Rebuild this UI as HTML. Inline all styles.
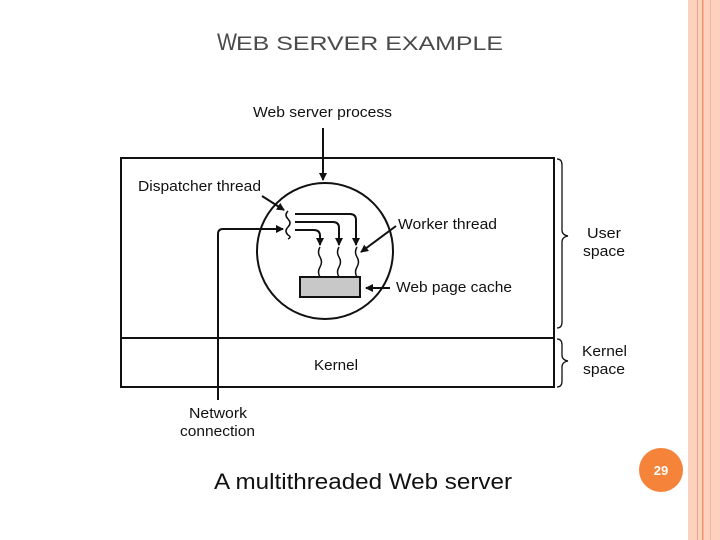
<!DOCTYPE html>
<html><head><style>
body{margin:0;width:720px;height:540px;background:#fff;position:relative;overflow:hidden;font-family:"Liberation Sans",sans-serif}
</style></head><body>
<svg width="720" height="540" viewBox="0 0 720 540" xmlns="http://www.w3.org/2000/svg" style="position:absolute;left:0;top:0">
<defs><marker id="a" markerWidth="8" markerHeight="8" refX="7" refY="4" orient="auto" markerUnits="userSpaceOnUse"><path d="M0,0 L8,4 L0,8 Z" fill="#111"/></marker></defs>
<rect x="688" y="0" width="32" height="540" fill="#fcd2bf"/>
<rect x="697" y="0" width="1" height="540" fill="#eea285"/>
<rect x="702" y="0" width="1.5" height="540" fill="#e8946f"/>
<rect x="710" y="0" width="1" height="540" fill="#f2b39a"/>
<text x="217" y="50" font-size="24" fill="#4a4a4a" textLength="20" lengthAdjust="spacingAndGlyphs">W</text>
<text x="236" y="50" font-size="19" fill="#4a4a4a" textLength="267" lengthAdjust="spacingAndGlyphs">EB SERVER EXAMPLE</text>
<g fill="none" stroke="#111" stroke-width="2">
<rect x="121" y="158" width="433" height="229"/>
<line x1="121" y1="338" x2="554" y2="338"/>
<circle cx="325" cy="251" r="68"/>
<line x1="323" y1="128" x2="323" y2="180" marker-end="url(#a)"/>
<path d="M218,400 V234 Q218,229 223,229 H283" marker-end="url(#a)"/>
<path d="M288,211 q-4,4 0,8 q4,4 0,8 q-4,4 0,8 q4,2 0,4" stroke-width="1.5"/>
<line x1="262" y1="196" x2="284" y2="210" marker-end="url(#a)"/>
<path d="M295,214 H350 Q356,214 356,220 V245" marker-end="url(#a)"/>
<path d="M295,222 H333 Q339,222 339,228 V245" marker-end="url(#a)"/>
<path d="M295,230 H314 Q320,230 320,236 V245" marker-end="url(#a)"/>
<path d="M320,247 q-3,5 0,10 q3,5 0,10 q-3,5 0,10" stroke-width="1.5"/>
<path d="M339,247 q-3,5 0,10 q3,5 0,10 q-3,5 0,10" stroke-width="1.5"/>
<path d="M357,247 q-3,5 0,10 q3,5 0,10 q-3,5 0,10" stroke-width="1.5"/>
<line x1="396" y1="226" x2="361" y2="252" marker-end="url(#a)"/>
<line x1="390" y1="288" x2="366" y2="288" marker-end="url(#a)"/>
<path d="M557,159 q5,0 5,6 v65 q0,5 6,6 q-6,1 -6,6 v80 q0,6 -5,6" stroke-width="1.3"/>
<path d="M557,339 q5,0 5,6 v10 q0,5 6,6 q-6,1 -6,6 v14 q0,6 -5,6" stroke-width="1.3"/>
</g>
<rect x="300" y="277" width="60" height="20" fill="#c8c8c8" stroke="#111" stroke-width="2"/>
<g font-size="15" fill="#111" lengthAdjust="spacingAndGlyphs">
<text x="253" y="117" textLength="139" lengthAdjust="spacingAndGlyphs">Web server process</text>
<text x="138" y="191" textLength="123" lengthAdjust="spacingAndGlyphs">Dispatcher thread</text>
<text x="398" y="229" textLength="99" lengthAdjust="spacingAndGlyphs">Worker thread</text>
<text x="396" y="292" textLength="116" lengthAdjust="spacingAndGlyphs">Web page cache</text>
<text x="314" y="370" textLength="44" lengthAdjust="spacingAndGlyphs">Kernel</text>
<text x="587" y="238" textLength="34" lengthAdjust="spacingAndGlyphs">User</text>
<text x="583" y="256" textLength="42" lengthAdjust="spacingAndGlyphs">space</text>
<text x="582" y="356" textLength="45" lengthAdjust="spacingAndGlyphs">Kernel</text>
<text x="583" y="374" textLength="42" lengthAdjust="spacingAndGlyphs">space</text>
<text x="189" y="418" textLength="58" lengthAdjust="spacingAndGlyphs">Network</text>
<text x="180" y="436" textLength="75" lengthAdjust="spacingAndGlyphs">connection</text>
</g>
<text x="214" y="489" font-size="22" fill="#111" textLength="298" lengthAdjust="spacingAndGlyphs">A multithreaded Web server</text>
<circle cx="661" cy="470" r="22" fill="#f5843a"/>
<text x="661" y="475" font-size="13" fill="#fff" font-weight="bold" text-anchor="middle">29</text>
</svg>
</body></html>
